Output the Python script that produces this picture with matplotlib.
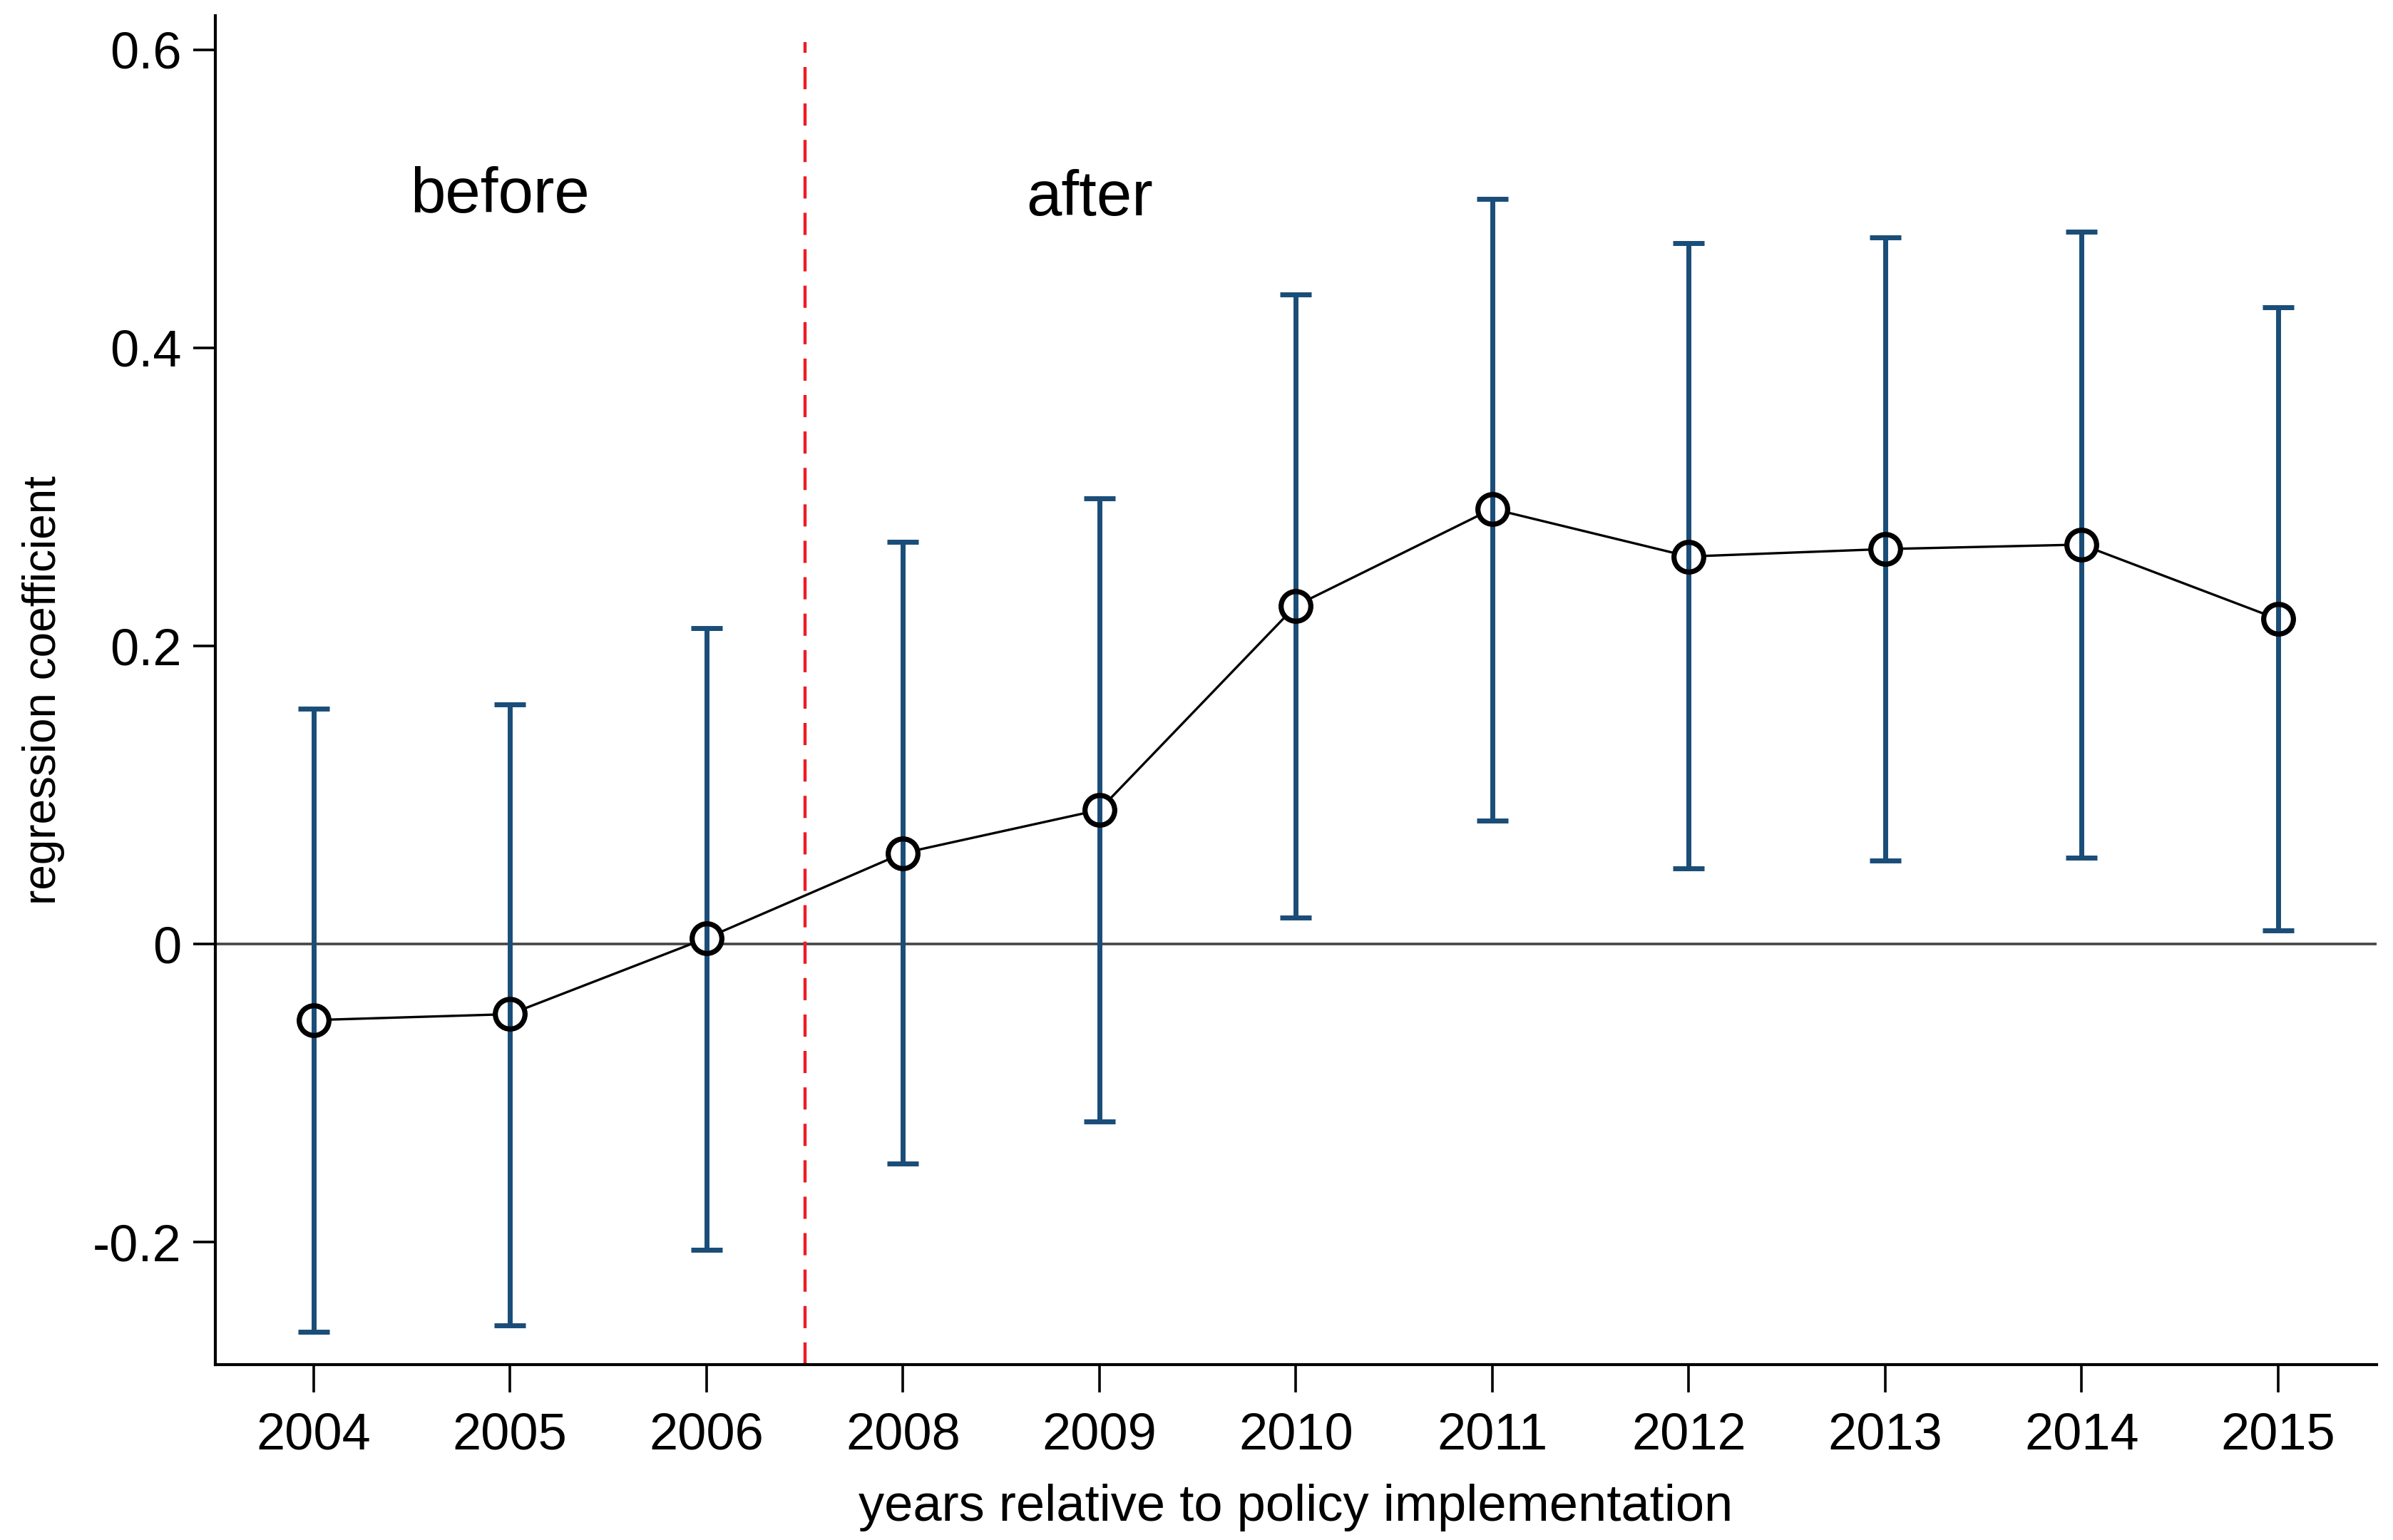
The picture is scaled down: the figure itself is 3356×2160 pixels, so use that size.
import matplotlib
matplotlib.use("Agg")
import matplotlib.pyplot as plt
import numpy as np

years = ["2004", "2005", "2006", "2008", "2009", "2010", "2011", "2012", "2013", "2014", "2015"]
coef = [-0.051, -0.047, 0.004, 0.061, 0.090, 0.227, 0.292, 0.260, 0.265, 0.268, 0.218]
upper = [0.158, 0.161, 0.212, 0.270, 0.299, 0.436, 0.500, 0.470, 0.474, 0.478, 0.427]
lower = [-0.260, -0.256, -0.205, -0.147, -0.119, 0.018, 0.083, 0.051, 0.056, 0.058, 0.009]
yticks = [-0.2, 0, 0.2, 0.4, 0.6]
ytick_labels = ["-0.2", "0", "0.2", "0.4", "0.6"]

plt.rcParams['font.family'] = ['Liberation Sans', 'DejaVu Sans']

fig = plt.figure(figsize=(3356/200, 2160/200), dpi=200)
ax = fig.add_axes([0.090, 0.114, 0.903, 0.876])

x = np.arange(1, len(years) + 1)
coef = np.array(coef); upper = np.array(upper); lower = np.array(lower)

ax.axhline(0, color='#444444', lw=1.3, zorder=1)
ax.plot(x, coef, color='black', lw=1.2, zorder=2)
ax.plot(x, coef, 'o', ms=15, mfc='white', mec='none', zorder=3)
ax.errorbar(x, coef, yerr=[coef - lower, upper - coef], fmt='none',
            ecolor='#1a4d78', elinewidth=2.5, capsize=8, capthick=2.5, zorder=4)
ax.plot(x, coef, 'o', ms=15, mfc='none', mec='black', mew=2.6, zorder=5)

ax.set_xlim(0.5, 11.5)
ax.set_ylim(-0.282, 0.623)
ax.vlines(3.5, -0.282, 0.605, colors='#ee1c24', lw=1.6, linestyles=(0, (7, 4.5)), zorder=2)

ax.set_xticks(x)
ax.set_xticklabels(years)
ax.set_yticks(yticks)
ax.set_yticklabels(ytick_labels)
ax.tick_params(axis='x', length=14, width=1.3, labelsize=26, pad=10)
ax.tick_params(axis='y', length=11, width=1.3, labelsize=26, pad=6)

for s in ['top', 'right']:
    ax.spines[s].set_visible(False)
for s in ['left', 'bottom']:
    ax.spines[s].set_linewidth(1.5)

ax.text(1.95, 0.502, "before", fontsize=32, ha='center', va='center')
ax.text(4.95, 0.500, "after", fontsize=32, ha='center', va='center')

ax.set_xlabel("years relative to policy implementation", fontsize=26, labelpad=12)
ax.set_ylabel("regression coefficient", fontsize=23, labelpad=14)

fig.savefig("out.png", dpi=200, facecolor='white')
